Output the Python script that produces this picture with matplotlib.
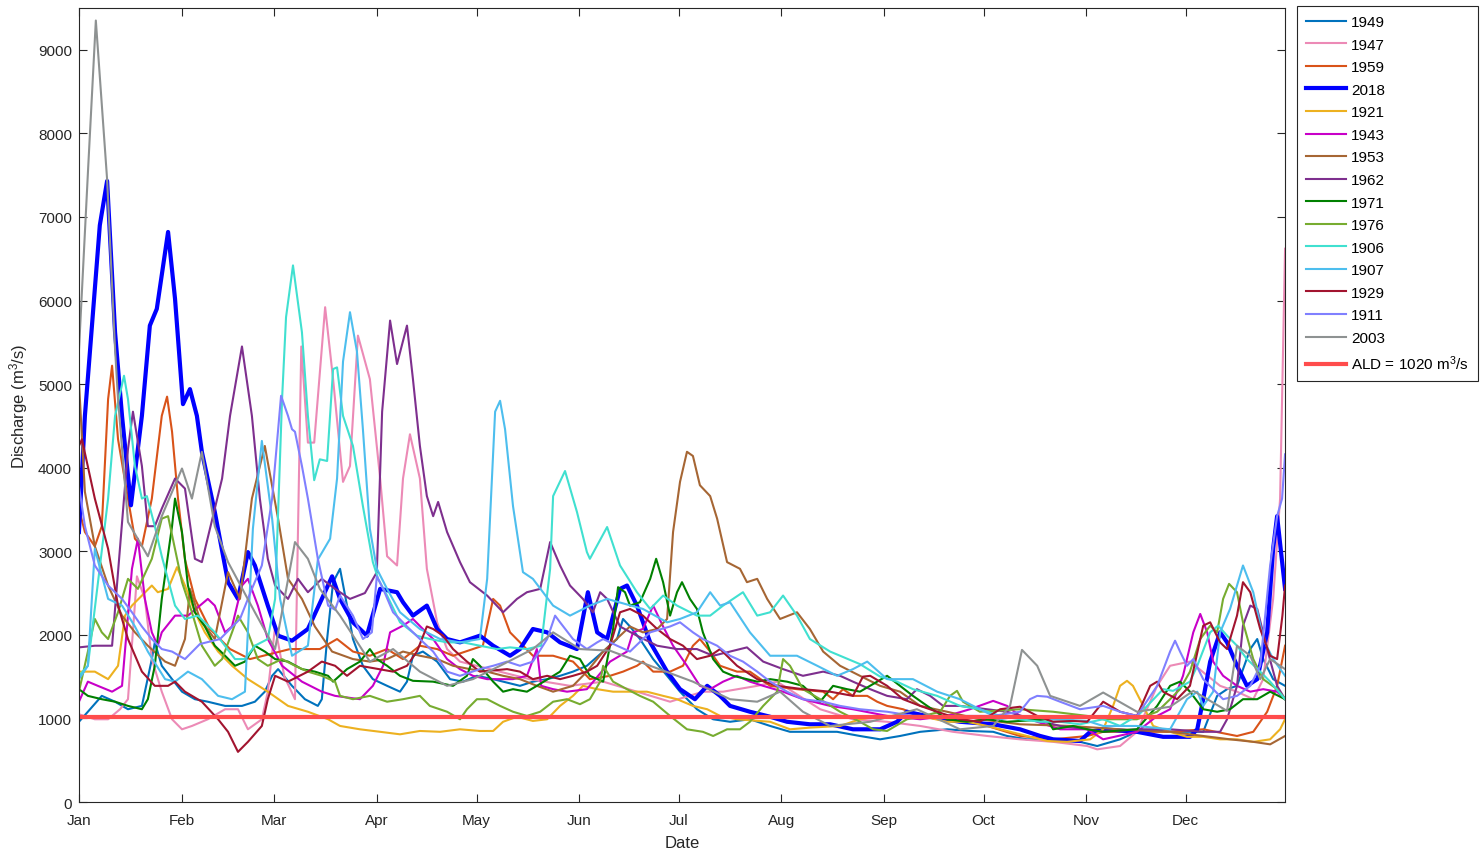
import matplotlib
matplotlib.use("Agg")
import matplotlib.pyplot as plt

plt.rcParams['font.family'] = ['Liberation Sans', 'DejaVu Sans']
plt.rcParams['mathtext.default'] = 'regular'

# daily discharge (m3/s) sampled by day of year, one pair of lists per year
d1949 = [0, 2.7, 6.9, 10.9, 14.8, 19, 22, 22.9, 25, 28.1, 31.1, 35, 38.9, 44.1, 49.2, 53.1, 56.1, 58.3, 60.1, 64.3, 68.2, 72.1, 73.3, 74.9, 76.7, 78.8, 80.9, 82.7, 85.7, 88.7, 93, 96.9, 99, 100.8, 103.8, 108.1, 112, 115.9, 120.1, 125, 133.1, 137, 141.3, 145.2, 149.1, 153.3, 158.2, 162.4, 164.2, 166.3, 169.3, 173.3, 177.5, 181.4, 186.5, 191.4, 196.5, 202.5, 208.6, 214.6, 228.8, 235.7, 241.8, 247.8, 253.9, 262, 268.9, 275.9, 280.1, 286.1, 294, 302.1, 307.3, 314.2, 319.3, 324.2, 329.3, 339.3, 343.5, 346.5, 349.5, 353.5, 355.6, 357.4, 360.4, 364]
q1949 = [960, 1080, 1270, 1200, 1110, 1150, 1710, 1910, 1630, 1470, 1320, 1230, 1200, 1150, 1150, 1200, 1320, 1510, 1590, 1390, 1230, 1150, 1230, 1950, 2630, 2790, 2350, 1950, 1630, 1470, 1390, 1320, 1440, 1750, 1800, 1680, 1470, 1440, 1510, 1470, 1390, 1440, 1470, 1510, 1560, 1630, 1800, 1950, 2190, 2100, 1950, 1710, 1510, 1320, 1110, 990, 960, 990, 910, 840, 840, 790, 750, 790, 840, 870, 850, 840, 790, 750, 750, 720, 670, 750, 840, 870, 840, 840, 1270, 1350, 1390, 1830, 1950, 1710, 1470, 1390]

d1947 = [0, 4.8, 8.8, 12.4, 14.8, 17.5, 19.9, 22, 25, 28.1, 31.1, 34.1, 38.9, 44.1, 48, 51, 55.2, 57, 59.2, 62, 65.2, 67.1, 69.1, 71, 74.3, 76.7, 79.7, 81.8, 84.2, 87.8, 90.9, 93, 96, 97.8, 99.9, 102.9, 105, 108.1, 111.1, 115, 124, 136, 148.2, 158.2, 168.4, 178.4, 188.3, 194.4, 204.7, 210.7, 223.7, 233.6, 243.9, 253.9, 263.8, 274.1, 284, 294, 304.3, 307.3, 314.2, 319.3, 325.4, 329.3, 335.3, 344.4, 349.5, 354.4, 357.4, 360.4, 362.5, 364]
q1947 = [1050, 990, 990, 1110, 1230, 2700, 2430, 1710, 1320, 990, 870, 910, 990, 1110, 1110, 870, 990, 1320, 2100, 1500, 1230, 5450, 4300, 4300, 5920, 5060, 3830, 4020, 5580, 5060, 3870, 2940, 2830, 3870, 4400, 3870, 2790, 2150, 1830, 1680, 1590, 1470, 1390, 1440, 1320, 1200, 1320, 1320, 1390, 1440, 1110, 990, 960, 910, 840, 790, 750, 720, 670, 630, 670, 840, 1390, 1630, 1680, 1390, 1320, 1230, 1470, 2430, 3630, 6620]

d1959 = [0, 1.8, 4.8, 6.9, 8.8, 10, 11.8, 14.8, 16.9, 19, 22, 25, 26.6, 28.1, 29.9, 32, 35, 39.5, 45.6, 51.6, 57.7, 63.7, 72.7, 77.9, 82.7, 87.8, 93, 97.8, 102.9, 108.1, 112.9, 121.9, 125, 127.1, 130.1, 133.1, 137, 143.1, 149.1, 154.2, 160.3, 164.2, 168.4, 170.2, 173.3, 178.4, 182.3, 185.3, 187.4, 190.5, 193.5, 198.6, 202.5, 208.6, 216.7, 224.6, 227.6, 230.6, 233.6, 237.9, 240.9, 243.9, 248.7, 253.9, 263.8, 274.1, 284, 294, 304.3, 309.1, 329.3, 339.3, 349.5, 354.4, 358.6, 361.6, 364]
q1959 = [3510, 3230, 3060, 3300, 4820, 5220, 4340, 3630, 3150, 3060, 3630, 4620, 4850, 4430, 3630, 2900, 2430, 2070, 1830, 1710, 1770, 1830, 1830, 1950, 1800, 1750, 1830, 1710, 1870, 1830, 1750, 1870, 2430, 2350, 2030, 1910, 1750, 1750, 1680, 1470, 1510, 1560, 1630, 1680, 1560, 1560, 1630, 1870, 1950, 1800, 1630, 1560, 1560, 1390, 1350, 1320, 1230, 1350, 1270, 1270, 1200, 1150, 1110, 1030, 1030, 910, 790, 750, 790, 840, 840, 870, 790, 840, 1080, 1390, 1870]

d2018 = [0, 1.8, 6.3, 8.5, 10.9, 13, 15.7, 19, 21.4, 23.5, 26.9, 29, 31.4, 33.5, 35.6, 37.1, 41, 45, 48, 51, 53.1, 57, 60.1, 64.3, 69.1, 73.3, 76.4, 78.8, 82.7, 86.9, 90.9, 96, 97.8, 100.8, 105, 108.1, 111.1, 115, 121, 125, 130.1, 133.1, 137, 141.3, 145.2, 150.3, 153.6, 156.4, 159.4, 163.3, 165.4, 168.4, 172.4, 177.5, 181.4, 185.9, 189.6, 193.5, 196.5, 202.5, 208.6, 213.7, 220.6, 226.7, 233.6, 241.8, 246.9, 249.9, 256.9, 265.9, 275.9, 284, 290.1, 294, 302.1, 305.2, 309.1, 319.3, 327.2, 335.3, 337.5, 339.3, 341.4, 344.4, 346.5, 349.5, 352.5, 355.6, 358.6, 360.4, 361.6, 364]
q2018 = [3230, 4620, 6900, 7430, 5620, 4620, 3550, 4620, 5700, 5900, 6820, 6020, 4760, 4940, 4620, 4190, 3470, 2630, 2430, 2990, 2830, 2350, 1990, 1930, 2070, 2430, 2700, 2430, 2150, 1990, 2550, 2510, 2390, 2230, 2350, 2070, 1950, 1910, 1990, 1870, 1750, 1830, 2070, 2030, 1910, 1830, 2510, 2030, 1950, 2550, 2590, 2350, 1910, 1560, 1350, 1230, 1390, 1270, 1150, 1080, 1020, 960, 930, 930, 870, 870, 960, 1080, 1020, 960, 930, 870, 790, 750, 730, 840, 870, 840, 780, 780, 870, 1230, 1680, 2030, 1910, 1630, 1390, 1470, 2030, 3030, 3420, 2550]

d1921 = [0, 4.8, 8.8, 11.8, 13.9, 16, 22, 23.8, 26.9, 29.6, 32, 35, 38, 42, 46.2, 51, 57, 63.1, 69.1, 75.2, 78.8, 84.8, 90.9, 96.9, 102.9, 109, 115, 121, 125, 128, 132.2, 137, 141.3, 145.2, 149.1, 152.1, 156.4, 161.2, 171.4, 176.3, 180.5, 185.3, 189.6, 193.5, 198.6, 208.6, 214.6, 220.6, 229.7, 235.7, 241.8, 253.9, 262, 268, 274.1, 280.1, 286.1, 292.2, 298.2, 305.2, 309.1, 312.1, 314.2, 316.3, 318.1, 321.2, 324.2, 329.3, 334.4, 339.3, 344.4, 349.5, 354.4, 359.5, 362.5, 364]
q1921 = [1560, 1560, 1470, 1630, 2230, 2350, 2590, 2510, 2550, 2810, 2590, 2270, 2030, 1800, 1630, 1470, 1320, 1150, 1080, 990, 910, 870, 840, 810, 850, 840, 870, 850, 850, 960, 1020, 970, 990, 1150, 1270, 1390, 1350, 1320, 1320, 1270, 1230, 1150, 1110, 1030, 990, 960, 870, 890, 910, 990, 1030, 1030, 960, 960, 910, 850, 790, 730, 720, 750, 870, 1150, 1390, 1450, 1390, 1150, 910, 840, 780, 780, 750, 750, 720, 750, 870, 990]

d1943 = [0, 2.7, 5.7, 10, 13, 16, 17.8, 19.9, 22, 23.8, 25, 29, 32.9, 38.9, 41, 44.1, 46.2, 49.2, 51, 54, 57, 61.3, 67.3, 73.3, 77.3, 84.8, 88.7, 91.8, 93.9, 97.8, 100.8, 103.8, 106.9, 111.1, 115, 118.9, 123.2, 131, 135.2, 138.2, 139.5, 143.1, 147.3, 153.3, 160.3, 165.4, 167.2, 170.2, 173.3, 176.3, 179.3, 183.5, 187.4, 190.5, 194.4, 198.6, 202.5, 206.5, 212.5, 218.5, 226.7, 233.6, 243.9, 253.9, 262, 268.9, 275.9, 280.1, 284, 289.2, 296.1, 304.3, 309.1, 319.3, 325.4, 329.3, 333.2, 336.3, 338.4, 340.5, 342.3, 345.3, 349.5, 353.5, 357.4, 361.6, 364]
q1943 = [1200, 1440, 1390, 1320, 1390, 2790, 3150, 2430, 2030, 1870, 2030, 2230, 2230, 2430, 2350, 2030, 2100, 2590, 2670, 2350, 1950, 1630, 1440, 1320, 1270, 1230, 1390, 1630, 2030, 2110, 2190, 2070, 1950, 1710, 1590, 1510, 1470, 1470, 1510, 1830, 1390, 1350, 1320, 1350, 1680, 1800, 2030, 2070, 2350, 2100, 1870, 1630, 1390, 1350, 1440, 1510, 1440, 1390, 1320, 1230, 1150, 1110, 1030, 990, 1030, 1110, 1210, 1150, 1030, 960, 870, 870, 750, 840, 1030, 1110, 1510, 2030, 2250, 2030, 1680, 1510, 1390, 1320, 1350, 1320, 1230]

d1953 = [0, 1.8, 4.8, 8.8, 13, 16.9, 20.8, 26, 29, 32, 33.5, 36.5, 41, 45, 48.6, 52.2, 56.1, 60.1, 63.1, 67.3, 71.2, 76.4, 82.7, 87.8, 93, 97.8, 102.9, 108.1, 112.9, 118, 123.2, 128, 133.1, 138.2, 143.1, 149.1, 153.3, 158.2, 166.3, 170.2, 174.5, 177.5, 179.3, 181.4, 183.5, 185.3, 187.4, 190.5, 192.6, 195.6, 199.5, 201.6, 204.7, 207.7, 211.6, 216.7, 220.6, 224.6, 229.7, 235.7, 241.8, 247.8, 253.9, 262, 271.9, 284, 299.1, 314.2, 329.3, 339.3, 347.4, 354.4, 359.5, 364]
q1953 = [5030, 3710, 3060, 2590, 2230, 2030, 1870, 1680, 1630, 1950, 2550, 2190, 1950, 2750, 2430, 3630, 4260, 3390, 2670, 2430, 2100, 1800, 1710, 1680, 1710, 1800, 1750, 1710, 1630, 1590, 1560, 1510, 1470, 1390, 1320, 1390, 1560, 1800, 2100, 2030, 2070, 2190, 3230, 3830, 4190, 4140, 3790, 3660, 3390, 2870, 2790, 2630, 2670, 2430, 2190, 2270, 2070, 1800, 1630, 1510, 1390, 1320, 1150, 1080, 990, 930, 910, 870, 840, 790, 750, 720, 690, 790]

d1962 = [0, 4.8, 10, 14.8, 16.3, 19, 20.8, 22.9, 25, 29, 32, 35, 37.1, 43.2, 45.6, 49.2, 52.2, 54.6, 57, 59.2, 63.1, 66.1, 69.1, 73.3, 77.3, 81.8, 86.3, 89.9, 91.5, 93.9, 96, 99, 100.8, 102.9, 105, 106.9, 108.4, 111.1, 115, 118, 123.2, 128, 132.2, 135.2, 139.2, 142.2, 145.2, 148.2, 152.1, 155.1, 157.3, 159.4, 163.3, 168.4, 174.5, 180.5, 186.5, 191.4, 196.5, 201.6, 206.5, 212.5, 218.5, 224.6, 229.7, 233.6, 238.8, 243.9, 249.9, 252.9, 256.9, 260.8, 265.9, 280.1, 288, 296.1, 304.3, 309.1, 319.3, 329.3, 339.3, 344.4, 346.5, 349.5, 351.3, 353.5, 355.6, 358.6, 361.6, 364]
q1962 = [1850, 1870, 1870, 4220, 4670, 4020, 3300, 3300, 3510, 3870, 3750, 2910, 2870, 3870, 4620, 5450, 4620, 3630, 2910, 2590, 2430, 2670, 2510, 2670, 2550, 2430, 2500, 2750, 4670, 5760, 5240, 5700, 5060, 4260, 3660, 3420, 3590, 3230, 2870, 2630, 2470, 2270, 2430, 2510, 2550, 3110, 2830, 2590, 2430, 2270, 2510, 2430, 2100, 1990, 1870, 1830, 1830, 1750, 1800, 1850, 1680, 1590, 1510, 1560, 1510, 1440, 1350, 1270, 1230, 1350, 1270, 1150, 1150, 1080, 990, 910, 870, 840, 870, 870, 840, 840, 990, 1390, 2110, 2350, 2310, 1830, 1390, 1230]

d1971 = [0, 2.7, 6.9, 10.9, 14.8, 19, 20.8, 22.9, 25, 28.1, 29, 31.1, 32.9, 35, 38, 41, 44.1, 47.1, 50.1, 53.1, 56.1, 59.2, 63.1, 67.3, 71.2, 75.2, 76.7, 80.9, 84.8, 87.8, 89.9, 93, 96.9, 100.8, 106.9, 112.9, 117.1, 118.9, 121, 125, 128, 131, 135.2, 138.2, 145.2, 148.2, 151.2, 154.2, 158.2, 161.2, 162.7, 164.8, 166.3, 169.3, 172.4, 174.2, 176.3, 178.4, 180.5, 182, 184.4, 186.5, 188.3, 191.4, 194.4, 197.4, 201.6, 204.7, 208.6, 213.7, 218.5, 223.7, 227.6, 231.8, 235.7, 240.9, 243.9, 247.8, 251.7, 256, 262, 268, 274.1, 280.1, 292.2, 294, 300, 304.3, 309.1, 319.3, 325.4, 329.3, 332.3, 335.3, 339.3, 343.5, 347.4, 351.3, 355.6, 359.5, 364]
q1971 = [1350, 1270, 1230, 1200, 1150, 1110, 1230, 1630, 2430, 3300, 3630, 3230, 2590, 2270, 2100, 1870, 1750, 1630, 1680, 1870, 1800, 1710, 1680, 1590, 1560, 1510, 1440, 1590, 1680, 1830, 1710, 1630, 1510, 1450, 1440, 1390, 1510, 1710, 1630, 1440, 1320, 1350, 1320, 1390, 1560, 1750, 1710, 1510, 1440, 2070, 2570, 2510, 2350, 2390, 2670, 2910, 2630, 2230, 2510, 2630, 2430, 2310, 2030, 1710, 1560, 1510, 1470, 1440, 1470, 1440, 1390, 1200, 1390, 1350, 1320, 1440, 1510, 1390, 1270, 1150, 990, 960, 990, 960, 990, 870, 910, 870, 840, 870, 1150, 1390, 1440, 1320, 1110, 1080, 1110, 1230, 1230, 1320, 1230]

d1976 = [0, 2.7, 4.8, 6.9, 8.8, 11.8, 14.8, 17.8, 22, 25, 26.9, 31.1, 34.1, 37.1, 41, 43.2, 46.2, 48, 51, 54, 57, 61.3, 65.2, 69.1, 73.3, 77.3, 78.8, 82.7, 87.8, 93, 97.8, 102.9, 105.9, 111.1, 115, 117.1, 120.1, 123.2, 127.1, 131, 135.2, 139.2, 143.1, 147.3, 151.2, 154.2, 157.3, 158.2, 161.2, 165.4, 169.3, 173.3, 178.4, 183.5, 188.3, 191.4, 195.6, 199.5, 202.5, 206.5, 210.7, 212.5, 214.6, 218.5, 223.7, 229.7, 235.7, 239.7, 243.9, 249.9, 254.8, 259.9, 262.9, 265, 266.8, 271.9, 284, 294, 304.3, 309.1, 319.3, 325.4, 329.3, 332.3, 335.3, 338.4, 341.4, 343.5, 345.3, 347.1, 349.5, 351.3, 354.4, 357.4, 361.6, 364]
q1976 = [1320, 1800, 2190, 2030, 1950, 2270, 2670, 2550, 2910, 3390, 3420, 2630, 2270, 1870, 1630, 1710, 2030, 2230, 2030, 1710, 1630, 1710, 1630, 1560, 1510, 1440, 1270, 1230, 1270, 1200, 1230, 1270, 1150, 1080, 990, 1110, 1230, 1230, 1150, 1080, 1030, 1080, 1200, 1230, 1170, 1230, 1440, 1630, 1440, 1350, 1270, 1200, 1030, 870, 840, 790, 870, 870, 960, 1150, 1320, 1710, 1630, 1350, 1230, 1080, 960, 870, 850, 990, 1030, 1080, 1270, 1330, 1200, 1080, 1110, 1080, 1030, 990, 990, 1080, 1230, 1350, 1560, 1950, 2110, 2030, 2430, 2610, 2510, 2150, 1710, 1470, 1350, 1230]

d1906 = [0, 2.7, 8.8, 10.9, 13.6, 14.8, 16.9, 19, 20.5, 22.9, 25, 29, 32, 35.9, 41, 47.1, 50.1, 53.1, 57, 59.2, 61.3, 62.5, 64.6, 67.3, 69.1, 71, 72.7, 74.9, 76.7, 77.9, 79.7, 82.7, 85.7, 88.7, 90.3, 93, 96.9, 102, 105.9, 111.1, 115.9, 121, 126.2, 130.1, 135.2, 139.5, 142.2, 143.1, 146.7, 150.3, 153.3, 154.2, 159.4, 163.3, 168.4, 172.4, 176.3, 180.5, 186.5, 190.5, 194.4, 200.4, 204.7, 208.6, 212.5, 216.7, 220.6, 226.7, 235.7, 241.8, 246.9, 251.7, 259, 265.9, 271.9, 278, 284, 290.1, 296.1, 302.1, 309.1, 314.2, 320, 327.2, 330.2, 335.3, 337.5, 341.4, 343.8, 346.5, 349.5, 352.5, 356.5, 359.5, 364]
q1906 = [1510, 1630, 3630, 4620, 5100, 4820, 4020, 3630, 3660, 3300, 2940, 2350, 2190, 2230, 2030, 1710, 1710, 1870, 1950, 2430, 4820, 5800, 6420, 5620, 4620, 3850, 4100, 4080, 5180, 5200, 4620, 4260, 3540, 2870, 2670, 2470, 2150, 1990, 1950, 1910, 1910, 1870, 1830, 1850, 1830, 1870, 2790, 3660, 3960, 3470, 2990, 2910, 3290, 2830, 2510, 2310, 2470, 2350, 2230, 2230, 2350, 2510, 2230, 2270, 2470, 2230, 1950, 1800, 1650, 1500, 1440, 1350, 1270, 1150, 1110, 1030, 990, 960, 960, 930, 990, 910, 1050, 1350, 1330, 1440, 1630, 2030, 2110, 1990, 1870, 1710, 1560, 1440, 1230]

d1907 = [0, 2.7, 4.8, 8.8, 13, 16.9, 20.8, 26, 29, 32.9, 37.1, 42, 46.2, 50.1, 52.5, 55.2, 58.3, 60.7, 64.3, 69.1, 72.1, 75.8, 77.9, 79.7, 81.8, 83.9, 85.7, 87.8, 89.9, 93, 96.9, 102.9, 109, 115, 121, 123.2, 125.6, 127.1, 128.6, 131, 134, 137, 143.1, 148.2, 154.2, 159.4, 170.2, 177.5, 181.4, 186.5, 190.5, 193.5, 196.5, 202.5, 208.6, 216.7, 222.8, 228.8, 233.6, 237.9, 243.9, 251.7, 259, 265.9, 271.9, 278, 284, 294, 304.3, 309.1, 319.3, 329.3, 334.4, 337.5, 339.3, 342.3, 344.4, 347.4, 351.3, 354.4, 357.4, 360.4, 364]
q1907 = [1470, 1630, 3030, 2430, 2350, 2100, 1800, 1470, 1440, 1560, 1470, 1270, 1230, 1320, 3270, 4320, 3390, 2430, 1750, 1870, 2900, 3150, 3870, 5270, 5860, 5390, 4460, 3270, 2790, 2550, 2270, 2070, 1950, 1910, 1950, 2670, 4670, 4800, 4460, 3540, 2750, 2670, 2350, 2230, 2350, 2430, 2310, 2150, 2190, 2270, 2510, 2350, 2390, 2030, 1750, 1750, 1630, 1510, 1590, 1680, 1470, 1470, 1320, 1230, 1110, 990, 1030, 990, 970, 910, 910, 870, 1230, 1320, 1150, 1320, 2030, 2310, 2830, 2510, 1950, 1710, 1510]

d1929 = [0, 0.9, 4.8, 8.8, 11.8, 14.8, 19, 22.9, 26.9, 29, 32, 37.1, 42, 45, 48, 51, 55.2, 57, 59.2, 63.1, 69.1, 73.3, 77.3, 80.9, 84.8, 94.8, 99, 102, 105, 106.9, 109.9, 112.9, 117.1, 121, 129.2, 133.1, 137, 141.3, 145.2, 149.1, 153.3, 156.4, 160.3, 163.3, 166.3, 170.2, 174.5, 178.4, 182.3, 186.5, 190.5, 193.5, 198.6, 204.7, 210.7, 218.5, 226.7, 233.6, 236.6, 238.8, 243.9, 248.7, 253.9, 259, 265.9, 271.9, 278, 284, 289.2, 294, 300, 304.3, 309.1, 314.2, 319.3, 323.3, 325.4, 327.2, 331.4, 335.3, 339.3, 341.4, 344.4, 346.5, 349.5, 351.3, 353.5, 356.5, 359.5, 361.6, 363.2, 364]
q1929 = [4260, 4340, 3630, 3030, 2350, 1950, 1560, 1390, 1390, 1440, 1320, 1200, 990, 840, 600, 720, 910, 1230, 1510, 1440, 1560, 1680, 1630, 1510, 1630, 1560, 1630, 1800, 2100, 2070, 1990, 1830, 1680, 1560, 1590, 1560, 1470, 1510, 1470, 1510, 1560, 1630, 1870, 2270, 2310, 2230, 2070, 1950, 1870, 1710, 1750, 1830, 1630, 1470, 1390, 1350, 1320, 1270, 1500, 1510, 1390, 1230, 1150, 1080, 990, 960, 1110, 1140, 1030, 960, 970, 960, 1200, 1080, 1030, 1390, 1440, 1320, 1230, 1390, 2110, 2150, 1910, 1830, 2230, 2630, 2510, 2070, 1750, 1710, 2230, 2590]

d1911 = [0, 1.8, 4.8, 8.8, 13, 16, 19, 22, 25, 28.1, 32, 36.5, 42.6, 48.6, 52.2, 55.2, 58.3, 61, 63.1, 64.3, 65.2, 67.3, 69.1, 72.1, 75.2, 77.3, 78.8, 82.7, 85.7, 88.4, 89.9, 91.8, 94.8, 99, 102.9, 106.9, 111.1, 115, 121, 125, 129.2, 133.1, 137, 141.3, 143.7, 145.2, 149.1, 153.3, 156.4, 158.2, 162.4, 166.3, 170.2, 172.4, 178.4, 181.4, 185.3, 188.3, 192.6, 196.5, 200.4, 204.7, 208.6, 213.7, 218.5, 224.6, 229.7, 235.7, 243.9, 251.7, 259.9, 268, 275.9, 284, 287, 289.2, 292.2, 296.1, 302.1, 309.1, 314.2, 319.3, 325.4, 329.3, 330.8, 332.3, 334.4, 336.3, 339.3, 342.3, 345.3, 349.5, 353.5, 356.5, 359.5, 361.6, 363.1, 364]
q1911 = [3780, 3300, 2830, 2590, 2430, 2270, 2100, 1950, 1830, 1800, 1710, 1890, 1950, 2190, 2550, 2830, 3630, 4860, 4620, 4460, 4430, 4020, 3630, 2910, 2350, 2300, 2470, 2230, 1950, 2030, 2700, 2550, 2270, 2100, 1950, 1800, 1560, 1510, 1590, 1630, 1680, 1630, 1680, 1950, 2230, 2150, 1950, 1830, 1910, 1950, 1870, 1800, 1950, 2030, 2100, 2150, 2030, 1950, 1870, 1750, 1680, 1560, 1440, 1320, 1230, 1200, 1150, 1110, 1080, 1030, 1020, 1030, 1030, 1080, 1230, 1270, 1260, 1200, 1110, 1150, 1080, 1030, 1390, 1800, 1930, 1800, 1630, 1710, 1470, 1350, 1230, 1270, 1390, 1630, 2830, 3420, 3630, 4160]

d2003 = [0, 2.8, 5.1, 8.5, 10.9, 11.8, 14.8, 20.8, 25, 31.1, 34.1, 37.1, 41, 45, 53.1, 59.2, 65.2, 69.1, 72.7, 78.8, 87.8, 94.8, 102.9, 111.1, 118.9, 127.1, 137, 143.1, 151.2, 160.3, 172.4, 185.3, 196.5, 204.7, 211.6, 218.5, 226.7, 238.8, 252.9, 265.9, 275.9, 281, 284.6, 289.2, 293.1, 302.1, 309.1, 319.3, 329.3, 336.3, 346.5, 349.5, 353.5, 356.5, 359.5, 364]
q2003 = [5400, 7600, 9350, 7450, 5420, 4820, 3350, 2940, 3420, 3990, 3630, 4190, 3300, 2870, 2270, 1830, 3110, 2910, 2550, 2230, 1680, 1830, 1560, 1390, 1470, 1630, 1830, 2030, 1830, 1810, 1630, 1440, 1230, 1200, 1320, 1080, 910, 960, 1110, 870, 910, 1150, 1820, 1630, 1270, 1150, 1310, 1080, 1140, 1330, 1090, 1870, 1750, 1470, 1710, 1590]

ald = 1020

series = [
    ('1949', d1949, q1949, '#0072BD', 1.5),
    ('1947', d1947, q1947, '#EC8AB6', 1.5),
    ('1959', d1959, q1959, '#D95319', 1.5),
    ('2018', d2018, q2018, '#0000FF', 3.0),
    ('1921', d1921, q1921, '#EDB120', 1.5),
    ('1943', d1943, q1943, '#C800C8', 1.5),
    ('1953', d1953, q1953, '#A66634', 1.5),
    ('1962', d1962, q1962, '#7E2F8E', 1.5),
    ('1971', d1971, q1971, '#008000', 1.5),
    ('1976', d1976, q1976, '#77AC30', 1.5),
    ('1906', d1906, q1906, '#40E0D0', 1.5),
    ('1907', d1907, q1907, '#4DBEEE', 1.5),
    ('1929', d1929, q1929, '#A2142F', 1.5),
    ('1911', d1911, q1911, '#8080FF', 1.5),
    ('2003', d2003, q2003, '#8E9292', 1.5),
]

month_days = [0, 31, 59, 90, 120, 151, 181, 212, 243, 273, 304, 334]
month_names = ['Jan', 'Feb', 'Mar', 'Apr', 'May', 'Jun', 'Jul', 'Aug', 'Sep', 'Oct', 'Nov', 'Dec']

fig = plt.figure(figsize=(14.81, 8.54), dpi=100)
ax = fig.add_axes([0.0533, 0.0597, 0.8144, 0.9298])

for name, d, q, c, lw in series:
    ax.plot(d, q, color=c, lw=lw, label=name)
ax.axhline(ald, color='#FF4C4C', lw=3, label='ALD = 1020 m$^3$/s')

ax.set_xlim(0, 364)
ax.set_ylim(0, 9500)
ax.set_yticks(range(0, 9001, 1000))
ax.set_xticks(month_days)
ax.set_xticklabels(month_names)

dark = '#262626'
ax.tick_params(direction='in', top=True, right=True, length=6, width=0.8,
               colors=dark, labelsize=11)
ax.tick_params(axis='x', pad=8)
ax.tick_params(axis='y', pad=5)
for sp in ax.spines.values():
    sp.set_color(dark)
    sp.set_linewidth(0.8)

ax.set_xlabel('Date', fontsize=12, color=dark, labelpad=6)
ax.set_ylabel('Discharge (m$^3$/s)', fontsize=12, color=dark, labelpad=6)

leg = fig.legend(loc='upper left', bbox_to_anchor=(1297 / 1481, 1 - 7 / 854),
                 bbox_transform=fig.transFigure, fontsize=11, frameon=True,
                 fancybox=False, edgecolor=dark, framealpha=1,
                 handlelength=2.6, handletextpad=0.35, labelspacing=0.56,
                 borderpad=0.6, borderaxespad=0)
leg.get_frame().set_linewidth(0.8)

fig.savefig('out.png', dpi=100)
